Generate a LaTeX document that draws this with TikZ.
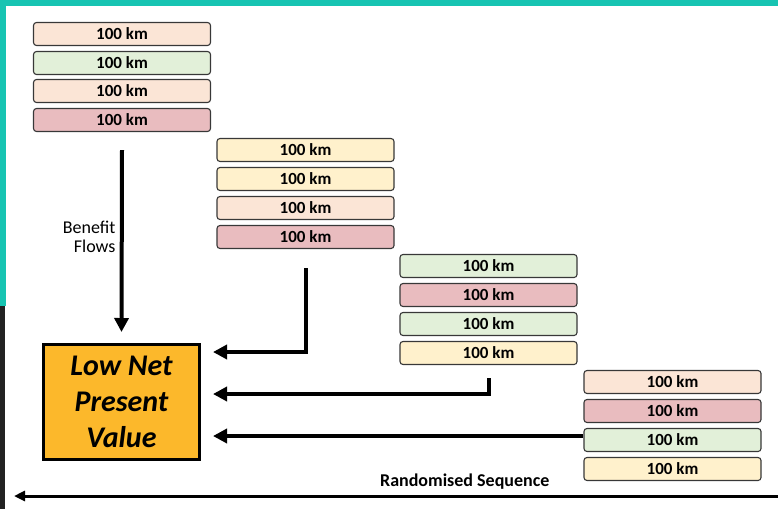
\documentclass[tikz,border=0pt]{standalone}
\usepackage{fontspec}
\setmainfont{Carlito}
\usetikzlibrary{arrows.meta}
\definecolor{peach}{HTML}{FBE5D6}
\definecolor{sage}{HTML}{E2F0D9}
\definecolor{rose}{HTML}{E9BCBF}
\definecolor{cream}{HTML}{FFF1CC}
\definecolor{npvorange}{HTML}{FCB82B}
\definecolor{framecol}{HTML}{17C4B2}
\definecolor{darkstrip}{HTML}{222222}

\begin{document}
\begin{tikzpicture}[x=1pt,y=-1pt,>=Triangle,
  km/.style={draw=black!78,line width=1.1pt,rounded corners=3pt,minimum width=177pt,minimum height=23pt,inner sep=0pt,font=\bfseries\fontsize{17}{17}\selectfont},
  flow/.style={line width=4pt,-{Triangle[length=14pt,width=14pt]}},
  seq/.style={line width=3pt,-{Triangle[length=11pt,width=10pt]}}]
\useasboundingbox (0,0) rectangle (778,509);
% frame of the slide
\fill[framecol] (0,0) rectangle (778,6); \fill[framecol] (0,0) rectangle (6,306); \fill[darkstrip] (0,306) rectangle (5,509);
% first year
\node[km,fill=peach] (a1) at (122,34) {100 km}; \node[km,fill=sage] (a2) at (122,63) {100 km};
\node[km,fill=peach] (a3) at (122,91) {100 km}; \node[km,fill=rose] (a4) at (122,120) {100 km};
% second year
\node[km,fill=cream] (b1) at (305.5,150) {100 km}; \node[km,fill=cream] (b2) at (305.5,179) {100 km};
\node[km,fill=peach] (b3) at (305.5,208) {100 km}; \node[km,fill=rose] (b4) at (305.5,237) {100 km};
% third year
\node[km,fill=sage] (c1) at (488.5,266) {100 km}; \node[km,fill=rose] (c2) at (488.5,295) {100 km};
\node[km,fill=sage] (c3) at (488.5,324) {100 km}; \node[km,fill=cream] (c4) at (488.5,353) {100 km};
% fourth year
\node[km,fill=peach] (d1) at (672.5,382) {100 km}; \node[km,fill=rose] (d2) at (672.5,411) {100 km};
\node[km,fill=sage] (d3) at (672.5,440) {100 km}; \node[km,fill=cream] (d4) at (672.5,469) {100 km};
% result
\node[draw,line width=3pt,fill=npvorange,minimum width=156pt,minimum height=115pt,align=center,font=\bfseries\itshape\fontsize{30}{36}\selectfont] (npv) at (121.5,402) {Low Net\\Present\\Value};
\node[anchor=east,align=right,font=\fontsize{18}{19}\selectfont] (benefit) at (119,237) {Benefit\\Flows};
% flows into the result
\draw[flow] ([yshift=-18pt]a4.south) -- ([yshift=11pt]npv.north);
\draw[flow] ([yshift=-19pt]b4.south) |- ([shift={(12pt,-9pt)}]npv.north east);
\draw[flow] ([yshift=-13pt]c4.south) |- ([shift={(12pt,8pt)}]npv.east);
\draw[flow] ([yshift=4pt]d3.west) -- ([shift={(12pt,-34pt)}]npv.east);
% time line
\coordinate (seqstart) at (778,496); \coordinate (seqend) at (14,496);
\draw[seq] (seqstart) -- (seqend) node[pos=0.41,above=2pt,font=\bfseries\fontsize{18}{18}\selectfont] (seqlabel) {Randomised Sequence};
\end{tikzpicture}
\end{document}
